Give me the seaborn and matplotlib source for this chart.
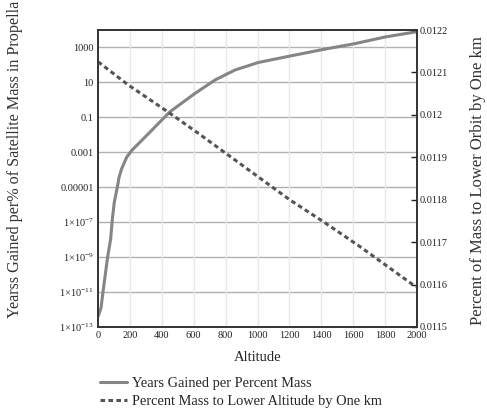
import matplotlib
matplotlib.use("Agg")
import matplotlib.pyplot as plt
import seaborn as sns
import numpy as np
import pandas as pd
from matplotlib.ticker import FixedLocator, FixedFormatter
from matplotlib.lines import Line2D

# ---- data ----
alt_years = [0, 10, 19, 33, 61, 79, 90, 102, 123, 132, 148, 180, 211, 274, 337, 451,
             608, 734, 859, 1005, 1193, 1402, 1611, 1800, 1977, 2000]
log_years = [-12.4, -12.15, -11.9, -10.87, -8.95, -7.99, -6.83, -5.87, -4.91, -4.43,
             -3.95, -3.28, -2.90, -2.32, -1.74, -0.68, 0.37, 1.14, 1.71, 2.14, 2.49,
             2.87, 3.22, 3.60, 3.87, 3.90]
years_gained = [10 ** v for v in log_years]

alt_pct = [0, 13, 190, 451, 629, 974, 1204, 1413, 1643, 1977, 2000]
pct_mass = [0.012125, 0.0121215, 0.0120704, 0.0120037, 0.0119565, 0.0118622,
            0.0117993, 0.0117482, 0.0116893, 0.0115990, 0.0115950]

left_ticks = [1e3, 1e1, 1e-1, 1e-3, 1e-5, 1e-7, 1e-9, 1e-11, 1e-13]
left_tick_labels = ["1000", "10", "0.1", "0.001", "0.00001",
                    r"1$\times$10$^{-7}$", r"1$\times$10$^{-9}$",
                    r"1$\times$10$^{-11}$", r"1$\times$10$^{-13}$"]
x_ticks = [0, 200, 400, 600, 800, 1000, 1200, 1400, 1600, 1800, 2000]
right_ticks = [0.0115, 0.0116, 0.0117, 0.0118, 0.0119, 0.012, 0.0121, 0.0122]
right_tick_labels = ["0.0115", "0.0116", "0.0117", "0.0118", "0.0119", "0.012", "0.0121", "0.0122"]

df1 = pd.DataFrame({"Altitude": alt_years, "Years": years_gained})
df2 = pd.DataFrame({"Altitude": alt_pct, "Pct": pct_mass})

sns.set_theme(style="white")
plt.rcParams["font.family"] = ["Liberation Serif", "DejaVu Serif"]
plt.rcParams["mathtext.fontset"] = "custom"
plt.rcParams["mathtext.rm"] = "Liberation Serif"
plt.rcParams["mathtext.it"] = "Liberation Serif"

fig = plt.figure(figsize=(4.87, 4.13), dpi=100)
ax = fig.add_axes([98 / 487, 1 - 327 / 413, 319 / 487, 297 / 413])
ax2 = ax.twinx()

solid_c = "#858585"
dash_c = "#555555"

sns.lineplot(data=df1, x="Altitude", y="Years", ax=ax, color=solid_c, linewidth=2.2)
sns.lineplot(data=df2, x="Altitude", y="Pct", ax=ax2, color=dash_c, linewidth=2.2)
ax2.lines[0].set_dashes((1.5, 1.1))

ax.set_yscale("log")
ax.set_ylim(1e-13, 1e4)
ax.set_xlim(0, 2000)
ax2.set_ylim(0.0115, 0.0122)

ax.yaxis.set_major_locator(FixedLocator(left_ticks))
ax.yaxis.set_major_formatter(FixedFormatter(left_tick_labels))
ax.yaxis.set_minor_locator(FixedLocator([]))
ax.set_xticks(x_ticks)
ax.set_xticklabels([str(t) for t in x_ticks])
ax2.yaxis.set_major_locator(FixedLocator(right_ticks))
ax2.yaxis.set_major_formatter(FixedFormatter(right_tick_labels))

ax.tick_params(axis="both", length=0, labelsize=7.5, pad=3, colors="#222222")
ax2.tick_params(axis="y", direction="in", length=4, width=1, labelsize=7.5, pad=2,
                colors="#222222")

ax.grid(False)
ax2.grid(False)
for t in left_ticks[:-1]:
    ax.axhline(t, color="#b0b0b0", linewidth=1, zorder=0)
for t in x_ticks[1:-1]:
    ax.axvline(t, color="#e8e8e8", linewidth=1, zorder=0)

for a in (ax, ax2):
    for s in a.spines.values():
        s.set_color("#333333")
        s.set_linewidth(1.2)

ax.set_xlabel("Altitude", fontsize=10.5, labelpad=8, color="#222222")
ax.set_ylabel("")
ax2.set_ylabel("")

fig.text(15 / 487, 1 - 318 / 413, "Yearss Gained per% of Satellite Mass in Propella",
         rotation=90, ha="center", va="bottom", fontsize=11.6, color="#333333")
fig.text(478 / 487, 1 - 181 / 413, "Percent of Mass to Lower Orbit by One km",
         rotation=90, ha="center", va="center", fontsize=12, color="#333333")

handles = [Line2D([0], [0], color=solid_c, linewidth=2.2),
           Line2D([0], [0], color=dash_c, linewidth=2.2, dashes=(1.5, 1.1))]
fig.legend(handles, ["Years Gained per Percent Mass",
                     "Percent Mass to Lower Altitude by One km"],
           loc="upper left", bbox_to_anchor=(100 / 487, 1 - 377 / 413), frameon=False,
           fontsize=10.4, handlelength=1.85, handletextpad=0.4, labelspacing=0.35,
           borderpad=0, borderaxespad=0)

fig.savefig("out.png", dpi=100)
